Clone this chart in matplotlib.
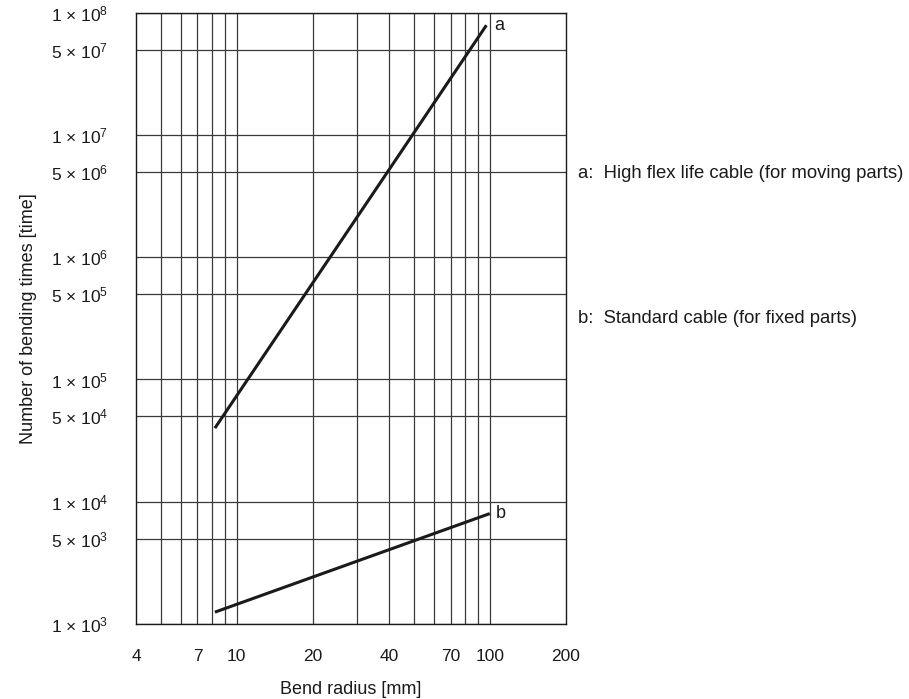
import matplotlib
matplotlib.use("Agg")
from matplotlib import pyplot as plt
from matplotlib.ticker import FixedLocator, NullFormatter

plt.rcParams['font.family'] = ['Liberation Sans', 'DejaVu Sans']
plt.rcParams['mathtext.fontset'] = 'custom'
plt.rcParams['mathtext.rm'] = 'Liberation Sans'
plt.rcParams['mathtext.it'] = 'Liberation Sans'

# Bend radius [mm] vs number of bending times
radius_a = [8.2, 97]
times_a = [4.0e4, 7.9e7]
radius_b = [8.2, 100]
times_b = [1.25e3, 8.0e3]

x_tick_values = [4, 7, 10, 20, 40, 70, 100, 200]
x_grid_values = [5, 6, 7, 8, 9, 10, 20, 30, 40, 50, 60, 70, 80, 90, 100]
y_mantissa = [1, 5, 1, 5, 1, 5, 1, 5, 1, 5, 1]
y_exponent = [3, 3, 4, 4, 5, 5, 6, 6, 7, 7, 8]

fig = plt.figure(figsize=(9.09, 6.99), dpi=100)
ax = fig.add_axes([0.1496, 0.1073, 0.4730, 0.8745])

ax.plot(radius_a, times_a, color='#1a1a1a', lw=2.2, solid_capstyle='butt')
ax.plot(radius_b, times_b, color='#1a1a1a', lw=2.2, solid_capstyle='butt')

ax.set_xscale('log')
ax.set_yscale('log')
ax.set_xlim(4, 200)
ax.set_ylim(1e3, 1e8)

# x axis: labels on a few values, grid on all of 5..100
ax.xaxis.set_major_locator(FixedLocator(x_tick_values))
ax.set_xticklabels([str(v) for v in x_tick_values])
ax.xaxis.set_minor_locator(FixedLocator([]))
for xv in x_grid_values:
    ax.axvline(xv, color='#3a3a3a', lw=0.9, zorder=1)

y_values = [m * 10.0 ** e for m, e in zip(y_mantissa, y_exponent)]
ax.yaxis.set_major_locator(FixedLocator(y_values))
ax.set_yticklabels([f"{m} × 10$^{{{e}}}$" for m, e in zip(y_mantissa, y_exponent)])
ax.yaxis.set_minor_locator(FixedLocator([]))
ax.yaxis.set_minor_formatter(NullFormatter())

ax.tick_params(which='both', length=0, labelsize=12.5, colors='#1a1a1a')
ax.tick_params(axis='y', pad=20)
ax.tick_params(axis='x', pad=18)

ax.grid(True, which='major', axis='y', color='#3a3a3a', lw=0.9)
for spine in ax.spines.values():
    spine.set_color('#1a1a1a')
    spine.set_linewidth(1.0)

ax.set_xlabel("Bend radius [mm]", fontsize=13, color='#1a1a1a', labelpad=12)
ax.set_ylabel("Number of bending times [time]", fontsize=13, color='#1a1a1a', labelpad=10)

# curve labels next to the line ends
ax.text(radius_a[-1] * 1.07, times_a[-1], "a", fontsize=13, va='center', ha='left', color='#1a1a1a')
ax.text(radius_b[-1] * 1.06, times_b[-1], "b", fontsize=13, va='center', ha='left', color='#1a1a1a')

fig.text(0.636, 0.752, "a:  High flex life cable (for moving parts)", fontsize=13.3,
         va='center', ha='left', color='#1a1a1a')
fig.text(0.636, 0.545, "b:  Standard cable (for fixed parts)", fontsize=13.3,
         va='center', ha='left', color='#1a1a1a')

fig.savefig("out.png", dpi=100)
